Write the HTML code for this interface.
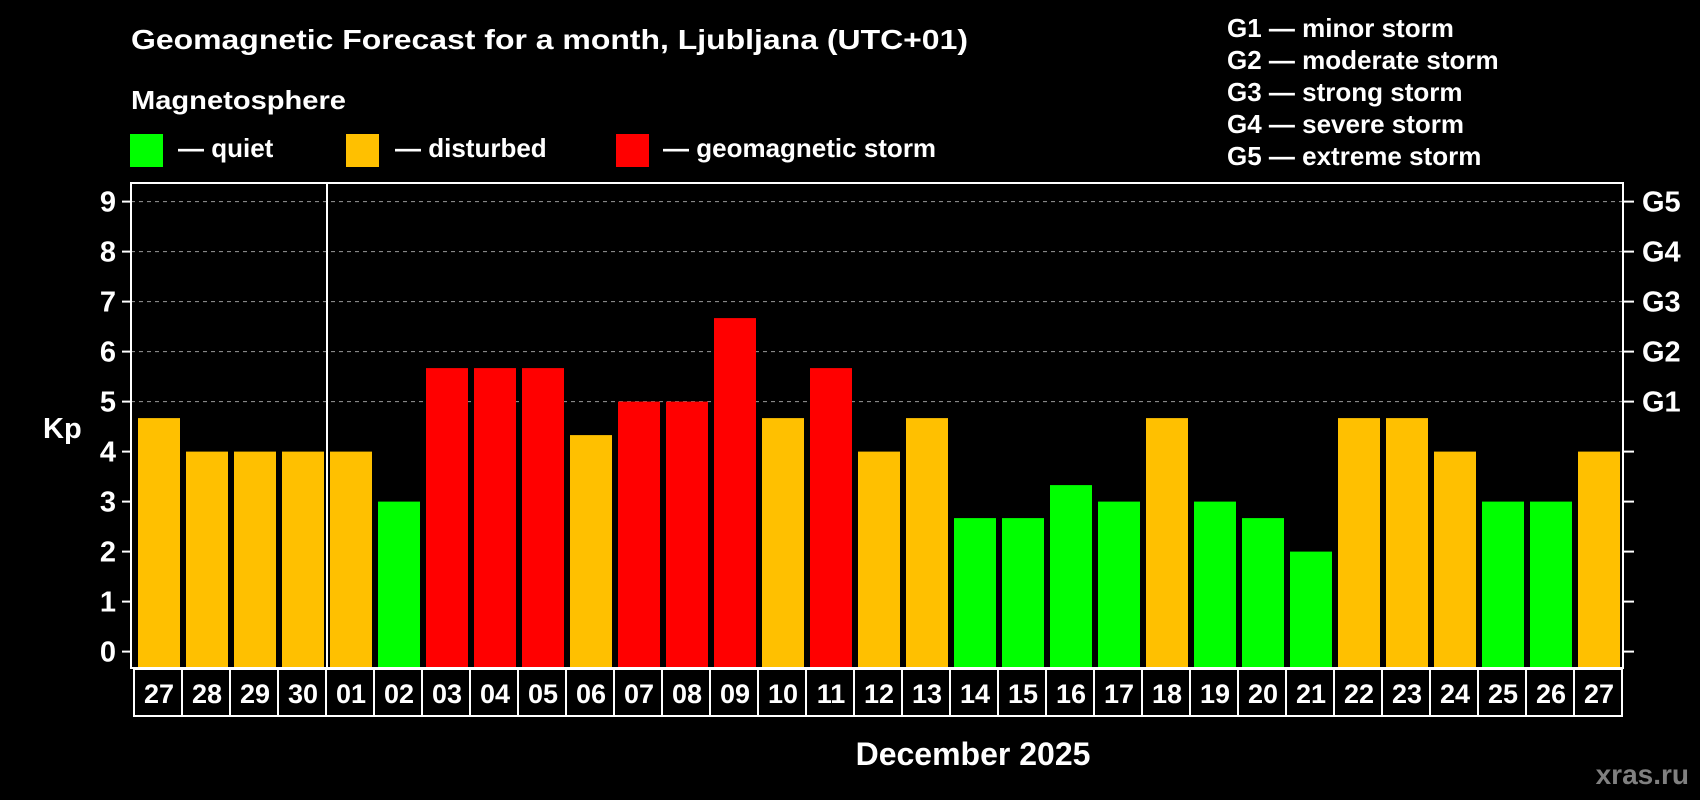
<!DOCTYPE html>
<html><head><meta charset="utf-8"><style>
html,body{margin:0;padding:0;background:#000;}
svg{display:block;font-family:"Liberation Sans",Arial,sans-serif;font-weight:bold;}
</style></head><body>
<svg id="chart" width="1700" height="800" viewBox="0 0 1700 800">
<rect x="0" y="0" width="1700" height="800" fill="#000"/>
<text x="131" y="49" fill="#fff" font-size="28" textLength="837" lengthAdjust="spacingAndGlyphs">Geomagnetic Forecast for a month, Ljubljana (UTC+01)</text>
<text x="131" y="109" fill="#fff" font-size="26" textLength="215" lengthAdjust="spacingAndGlyphs">Magnetosphere</text>
<g>
<rect x="130" y="134" width="33" height="33" fill="#00ff00"/>
<text x="178" y="157" fill="#fff" font-size="26">— quiet</text></g>
<g>
<rect x="346" y="134" width="33" height="33" fill="#ffc000"/>
<text x="395" y="157" fill="#fff" font-size="26">— disturbed</text></g>
<g>
<rect x="616" y="134" width="33" height="33" fill="#ff0000"/>
<text x="663" y="157" fill="#fff" font-size="26">— geomagnetic storm</text></g>
<g fill="#fff" font-size="26">
<text x="1227" y="37">G1 — minor storm</text>
<text x="1227" y="69">G2 — moderate storm</text>
<text x="1227" y="101">G3 — strong storm</text>
<text x="1227" y="133">G4 — severe storm</text>
<text x="1227" y="165">G5 — extreme storm</text>
</g>
<text x="43" y="438" fill="#fff" font-size="29">Kp</text>
<text x="973" y="765" fill="#fff" font-size="32" text-anchor="middle">December 2025</text>
<text x="1689" y="784" fill="#808080" font-size="28" text-anchor="end">xras.ru</text>
<g id="plot"></g>
</svg>
<script>
const days = ["27","28","29","30","01","02","03","04","05","06","07","08","09","10","11","12","13","14","15","16","17","18","19","20","21","22","23","24","25","26","27"];
const kpValues = [4.67,4,4,4,4,3,5.67,5.67,5.67,4.33,5,5,6.67,4.67,5.67,4,4.67,2.67,2.67,3.33,3,4.67,3,2.67,2,4.67,4.67,4,3,3,4];
const yTicks = [0,1,2,3,4,5,6,7,8,9];
const gLabels = ["G1","G2","G3","G4","G5"];
const gLevels = [5,6,7,8,9];
const monthBoundary = 4;

const NS = "http://www.w3.org/2000/svg";
const plot = document.getElementById("plot");
const L = 131, R = 1623, T = 183, B = 668;
const y = v => 651.6 - v * 50;
const x0 = 138, pitch = 48, bw = 42;
const x = i => x0 + i * pitch;
function mk(tag, attrs, parent) {
  const e = document.createElementNS(NS, tag);
  for (const k in attrs) e.setAttribute(k, attrs[k]);
  (parent || plot).appendChild(e);
  return e;
}
function color(v) { return v < 4 ? "#00ff00" : (v < 5 ? "#ffc000" : "#ff0000"); }

gLevels.forEach((lv, i) => {
  const g = mk("line", {x1: L, x2: R, y1: y(lv), y2: y(lv), stroke: "#999", "stroke-width": 1, "stroke-dasharray": "4,4"});
  
  
  const t = mk("text", {x: 1642, y: y(lv) + 10, fill: "#fff", "font-size": 29});
  t.textContent = gLabels[i];
  
  
});
yTicks.forEach(v => {
  const tk = mk("line", {x1: 122, x2: L, y1: y(v), y2: y(v), stroke: "#fff", "stroke-width": 2});
  
  
  const tr = mk("line", {x1: R, x2: 1634, y1: y(v), y2: y(v), stroke: "#fff", "stroke-width": 2});
  
  
  const t = mk("text", {x: 116, y: y(v) + 10, fill: "#fff", "font-size": 29, "text-anchor": "end"});
  t.textContent = v;
  
  
});
kpValues.forEach((v, i) => {
  const b = mk("rect", {x: x(i), y: y(v), width: bw, height: B - y(v), fill: color(v)});
  
  
  const c = mk("rect", {x: x(i) - 4, y: 669, width: 48, height: 47, fill: "none", stroke: "#fff", "stroke-width": 2});
  
  
  const t = mk("text", {x: x(i) + bw / 2, y: 703, fill: "#fff", "font-size": 27, "text-anchor": "middle"});
  t.textContent = days[i];
  
  
});
const sep = mk("line", {x1: x(monthBoundary) - 3, x2: x(monthBoundary) - 3, y1: T, y2: B, stroke: "#fff", "stroke-width": 2});


const frame = mk("rect", {x: L, y: T, width: R - L, height: B - T, fill: "none", stroke: "#fff", "stroke-width": 2});


</script>
</body></html>
